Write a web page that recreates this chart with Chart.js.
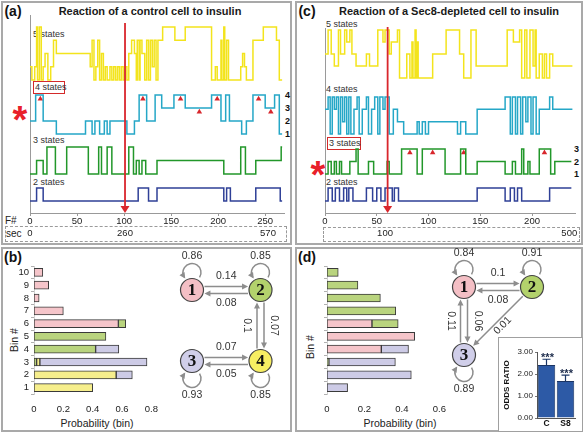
<!DOCTYPE html>
<html>
<head>
<meta charset="utf-8">
<script src="https://cdn.jsdelivr.net/npm/chart.js@4.4.1/dist/chart.umd.min.js"></script>
<style>
  body { margin: 0; background: #fff; }
  #fig { position: relative; width: 584px; height: 433px; overflow: hidden; background: #fff;
         font-family: 'Liberation Sans', Arial, sans-serif; color: #222; }
  .panel { position: absolute; box-sizing: border-box; border: 2px solid #a9a9a9; }
  canvas { position: absolute; }
  .t { position: absolute; white-space: nowrap; line-height: 1; transform: translate(-50%, -50%); }
  .l { position: absolute; white-space: nowrap; line-height: 1; transform: translate(0, -50%); }
  .rot { position: absolute; white-space: nowrap; line-height: 1; transform: translate(-50%, -50%) rotate(-90deg); }
  .box { position: absolute; box-sizing: border-box; }
  .st { font-size: 9px; color: #333; }
  .lv { font-size: 9px; font-weight: bold; color: #111; }
  .ast { font-size: 38px; font-weight: bold; color: #e8202a; }
  .ttl { font-size: 11px; font-weight: bold; color: #1a1a1a; }
  .pl { font-size: 14px; font-weight: bold; color: #111; }
</style>
</head>
<body>
<div id="fig">
  <div class="panel" style="left:1px;top:1px;width:291px;height:244px"></div>
  <div class="panel" style="left:1px;top:247px;width:291px;height:185px"></div>
  <div class="panel" style="left:295px;top:1px;width:288px;height:244px"></div>
  <div class="panel" style="left:295px;top:247px;width:288px;height:185px"></div>

  <!-- panel a -->
  <div class="t pl" style="left:13px;top:11px">(a)</div>
  <div class="t ttl" style="left:150px;top:11px">Reaction of a control cell to insulin</div>
  <div class="l st" style="left:33px;top:34px">5 states</div>
  <div class="box" style="left:33px;top:81px;width:32px;height:13px;border:1.5px solid #d42a2a"></div>
  <div class="l st" style="left:35px;top:87px">4 states</div>
  <div class="l st" style="left:33px;top:140px">3 states</div>
  <div class="l st" style="left:33px;top:182px">2 states</div>
  <div class="l lv" style="left:285px;top:95px">4</div>
  <div class="l lv" style="left:285px;top:108px">3</div>
  <div class="l lv" style="left:285px;top:121px">2</div>
  <div class="l lv" style="left:285px;top:134px">1</div>
  <div class="t ast" style="left:20px;top:120px">*</div>
  <div class="box" style="left:5px;top:226px;width:282px;height:16px;border:1px dashed #9a9a9a"></div>
  <div class="l" style="left:5px;top:221px;font-size:10px">F#</div>
  <div class="l" style="left:6px;top:234px;font-size:10px">sec</div>

  <!-- panel c -->
  <div class="t pl" style="left:307px;top:11px">(c)</div>
  <div class="t ttl" style="left:449px;top:11px">Reaction of a Sec8-depleted cell to insulin</div>
  <div class="l st" style="left:326px;top:24px">5 states</div>
  <div class="l st" style="left:326px;top:89px">4 states</div>
  <div class="box" style="left:327px;top:137px;width:34px;height:13px;border:1.5px solid #d42a2a"></div>
  <div class="l st" style="left:329px;top:143px">3 states</div>
  <div class="l st" style="left:326px;top:182px">2 states</div>
  <div class="l lv" style="left:574px;top:149px">3</div>
  <div class="l lv" style="left:574px;top:162px">2</div>
  <div class="l lv" style="left:574px;top:174px">1</div>
  <div class="t ast" style="left:318px;top:175px">*</div>
  <div class="box" style="left:323px;top:227px;width:257px;height:15px;border:1px dashed #9a9a9a"></div>

  <!-- panel b -->
  <div class="t pl" style="left:13px;top:257px">(b)</div>
  <div class="rot" style="left:14px;top:340px;font-size:10.5px">Bin #</div>
  <div class="t" style="left:97px;top:423px;font-size:10.5px">Probability (bin)</div>

  <!-- panel d -->
  <div class="t pl" style="left:307px;top:257px">(d)</div>
  <div class="rot" style="left:310px;top:347px;font-size:10.5px">Bin #</div>
  <div class="t" style="left:400px;top:423px;font-size:10.5px">Probability (bin)</div>

  <canvas id="trA" width="290" height="243" style="left:0;top:0"></canvas>
  <canvas id="trC" width="290" height="243" style="left:294px;top:0"></canvas>
  <canvas id="barB" width="168" height="172" style="left:0;top:247px"></canvas>
  <canvas id="netB" width="125" height="183" style="left:165px;top:247px"></canvas>
  <canvas id="barD" width="163" height="172" style="left:293px;top:247px"></canvas>
  <canvas id="netD" width="152" height="183" style="left:430px;top:247px"></canvas>
  <div class="box" style="left:498px;top:337px;width:85px;height:95px;border:1.5px solid #a0a0a0;background:#fff"></div>
  <canvas id="odds" width="82" height="92" style="left:499px;top:338px"></canvas>
</div>

<script>
// ---------- traces: [frame where the state starts, state] ----------
const frameTicksA = [0, 50, 100, 150, 200, 250];
const secTicksA = [0, 101, 253];
const secLabelsA = ['0', '260', '570'];
const insulinFrameA = 101;

const fiveStatesA = [[0,2],[2,1],[5,2],[7,5],[8,1],[10,5],[12,1],[14,2],[16,3],[19,1],[22,2],[25,4],[28,3],
  [64,2],[66,4],[68,1],[70,2],[72,4],[74,1],[76,3],[78,1],[80,2],[82,1],[85,2],[87,1],[89,2],[91,1],[93,2],
  [95,1],[97,2],[99,1],[101,2],[103,1],[105,3],[108,4],[111,3],[113,1],[114,4],[116,1],[117,4],[119,3],[122,1],
  [124,4],[126,1],[128,4],[130,2],[132,4],[134,1],[136,4],[141,5],[154,4],[165,5],[193,1],[197,2],[199,1],
  [203,4],[204,1],[206,5],[207,1],[209,4],[211,1],[224,2],[226,3],[228,2],[230,1],[237,4],[248,5],[262,4],
  [265,1],[268,1]];
const fourStatesA = [[0,2],[6,4],[14,2],[28,1],[59,2],[66,1],[69,2],[74,1],[79,2],[82,1],[85,2],[103,1],
  [111,2],[116,4],[124,2],[133,4],[140,3],[153,4],[165,3],[193,4],[203,2],[208,4],[212,2],[225,1],[230,2],
  [237,4],[250,3],[260,4],[265,1],[268,1]];
const threeStatesA = [[0,1],[7,2],[14,1],[18,3],[27,1],[39,3],[62,1],[73,3],[76,1],[82,3],[87,1],[105,3],
  [110,1],[113,2],[116,1],[119,2],[123,1],[135,2],[206,1],[224,3],[229,1],[240,2],[267,3],[268,3]];
const twoStatesA = [[0,1],[7,2],[14,1],[115,2],[126,1],[135,2],[206,1],[209,2],[213,1],[240,2],[266,1],[268,1]];
const marksA = [[11,4],[120,4],[160,4],[180,3],[199,4],[243,4],[256,3]];

const frameTicksC = [0, 50, 100, 150, 200];
const secTicksC = [58, 236];
const secLabelsC = ['100', '500'];
const insulinFrameC = 60.5;

const fiveStatesC = [[0,3],[3,5],[6,3],[9,2],[13,5],[15,3],[19,5],[21,4],[24,5],[26,3],[30,2],[40,3],[43,2],
  [51,5],[56,4],[58,5],[62,3],[64,4],[70,5],[72,1],[79,3],[82,1],[84,4],[85,1],[87,5],[88,1],[89,4],[90,1],
  [104,3],[117,5],[130,3],[134,1],[141,5],[146,2],[176,5],[182,4],[188,5],[190,1],[193,5],[195,1],[198,5],
  [201,2],[203,5],[204,1],[207,3],[210,1],[212,3],[214,1],[217,3],[220,2],[239,2]];
const fourStatesC = [[0,3],[3,4],[5,1],[7,4],[9,3],[11,4],[13,1],[15,4],[17,2],[19,4],[21,1],[23,4],[25,1],
  [28,3],[31,4],[33,1],[36,3],[40,4],[42,1],[45,3],[48,4],[51,1],[53,4],[56,3],[58,4],[62,1],[66,3],[70,2],
  [76,1],[89,2],[91,1],[94,2],[97,1],[100,2],[128,1],[131,2],[136,1],[147,3],[174,4],[179,1],[181,4],[184,1],
  [186,4],[189,1],[191,4],[194,2],[196,4],[199,1],[201,4],[204,1],[207,3],[217,4],[220,3],[239,3]];
const threeStatesC = [[0,1],[3,2],[6,1],[9,2],[11,1],[14,2],[16,1],[24,2],[30,3],[32,1],[42,2],[47,1],[60,2],
  [62,1],[74,3],[89,1],[94,3],[116,1],[131,3],[136,1],[147,2],[174,1],[181,2],[184,1],[190,3],[192,1],[196,2],
  [198,1],[207,3],[218,1],[222,2],[238,2]];
const twoStatesC = [[0,1],[3,2],[7,1],[10,2],[14,1],[18,2],[21,1],[23,2],[27,1],[40,2],[46,1],[50,2],[54,1],
  [58,2],[65,1],[67,2],[71,1],[147,2],[174,1],[179,2],[183,1],[186,2],[190,1],[217,2],[238,2]];
const marksC = [[82,3],[104,3],[134,3],[212,3]];

// ---------- bin probabilities (bins 1..10) ----------
const binLabels = ['1','2','3','4','5','6','7','8','9','10'];
const probTicksB = [0, 0.2, 0.4, 0.6, 0.8];
const pinkB   = [0, 0, 0, 0, 0, 0.575, 0.2, 0.035, 0.1, 0.06];
const greenB  = [0, 0, 0.018, 0.42, 0.49, 0.05, 0, 0, 0, 0];
const yellowB = [0.4, 0.56, 0.022, 0, 0, 0, 0, 0, 0, 0];
const purpleB = [0, 0.11, 0.73, 0.158, 0, 0, 0, 0, 0, 0];

const probTicksD = [0, 0.2, 0.4, 0.6];
const pinkD   = [0, 0, 0, 0.29, 0.468, 0.24, 0, 0, 0, 0];
const greenD  = [0, 0, 0.01, 0, 0, 0.14, 0.367, 0.285, 0.165, 0.06];
const purpleD = [0.11, 0.45, 0.355, 0.145, 0, 0, 0, 0, 0, 0];

// ---------- state diagrams ----------
const statesB = ['1','2','3','4'];
const selfB = [0.86, 0.85, 0.93, 0.85];
const transB = [[1,2,0.14],[2,1,0.08],[4,2,0.1],[2,4,0.07],[3,4,0.07],[4,3,0.05]];
const statesD = ['1','2','3'];
const selfD = [0.84, 0.91, 0.89];
const transD = [[1,2,0.1],[2,1,0.08],[3,1,0.11],[1,3,0.06],[2,3,0.01]];

// ---------- odds ratio inset ----------
const groupLabels = ['C', 'S8'];
const oddsRatio = [2.41, 1.68];
const oddsErr = [0.26, 0.27];
const oddsStars = ['***', '***'];
const oddsTicks = [0, 1, 2, 3];

// ---------- colours ----------
const cYellow = '#f3e41c', cCyan = '#25a7c7', cGreen = '#22972a', cBlue = '#2f4097';
const fPink = '#f5c5ca', fGreen = '#b9d47e', fYellow = '#f6ee8c', fPurple = '#cdcbe6';
const nodePink = '#f4bfc5', nodeGreen = '#b3d26c', nodePurple = '#d0cee9', nodeYellow = '#f7ee62';

Chart.defaults.font.family = "'Liberation Sans', Arial, sans-serif";
Chart.defaults.color = '#222';
Chart.defaults.animation = false;
Chart.defaults.responsive = false;
Chart.defaults.plugins.legend.display = false;
Chart.defaults.plugins.tooltip.enabled = false;

const insulinPlugin = {
  id: 'insulin',
  afterDatasetsDraw(chart, args, o) {
    const ctx = chart.ctx, x = chart.scales.x.getPixelForValue(o.frame), b = chart.chartArea.bottom;
    ctx.save();
    ctx.strokeStyle = ctx.fillStyle = '#d9262c';
    ctx.lineWidth = 1.8;
    ctx.beginPath(); ctx.moveTo(x, o.top); ctx.lineTo(x, b - 5); ctx.stroke();
    ctx.beginPath(); ctx.moveTo(x - 4.5, b - 7); ctx.lineTo(x + 4.5, b - 7); ctx.lineTo(x, b); ctx.closePath(); ctx.fill();
    ctx.restore();
  }
};

function traceChart(id, o) {
  const scales = {
    x: {
      type: 'linear', min: 0, max: o.max,
      afterBuildTicks: s => { s.ticks = o.fTicks.map(v => ({ value: v })); },
      afterFit: s => { s.height = 13; },
      grid: { display: true, drawOnChartArea: false, tickLength: 3, color: '#999' },
      border: { color: '#999' },
      ticks: { padding: 0, maxRotation: 0, autoSkip: false, font: { size: 9.5 } }
    },
    xs: {
      type: 'linear', position: 'bottom', min: 0, max: o.max,
      afterBuildTicks: s => { s.ticks = o.sTicks.map(v => ({ value: v })); },
      afterFit: s => { s.height = 14; },
      grid: { display: false, drawTicks: false },
      border: { display: false },
      ticks: { padding: 2, maxRotation: 0, autoSkip: false, font: { size: 9.5 }, callback: (v, i) => o.sLabels[i] }
    }
  };
  const datasets = [];
  o.traces.forEach((t, i) => {
    const ax = 'y' + i;
    scales[ax] = {
      type: 'linear', position: 'left', stack: 'tr', stackWeight: t.sec.h,
      min: t.sec.min, max: t.sec.max,
      ticks: { display: false }, grid: { display: false, drawTicks: false },
      border: { color: '#9a9a9a' },
      afterFit: s => { s.width = 0; }
    };
    datasets.push({
      data: t.data.map(p => ({ x: p[0], y: p[1] })), yAxisID: ax,
      borderColor: t.color, borderWidth: 1.5, pointRadius: 0, stepped: true
    });
  });
  datasets.push({
    data: o.marks.map(p => ({ x: p[0], y: p[1] - 0.3 })), yAxisID: 'y' + o.markTrace,
    showLine: false, pointStyle: 'triangle', pointRadius: 3.2,
    pointBackgroundColor: '#d8262c', pointBorderColor: '#d8262c', pointBorderWidth: 0
  });
  return new Chart(document.getElementById(id), {
    type: 'line',
    data: { datasets },
    options: {
      layout: { padding: o.pad },
      scales,
      plugins: { insulin: { frame: o.insulin, top: o.lineTop } }
    },
    plugins: [insulinPlugin]
  });
}

// traces listed bottom to top (stacked axes fill from the bottom)
traceChart('trA', {
  max: 270, pad: { left: 30, right: 6, top: 15, bottom: 3 },
  fTicks: frameTicksA, sTicks: secTicksA, sLabels: secLabelsA,
  insulin: insulinFrameA, lineTop: 23,
  traces: [
    { data: twoStatesA, color: cBlue, sec: { min: 0.077, max: 2.615, h: 33 } },
    { data: threeStatesA, color: cGreen, sec: { min: 0.556, max: 3.44, h: 39 } },
    { data: fourStatesA, color: cCyan, sec: { min: 0.46, max: 4.69, h: 55 } },
    { data: fiveStatesA, color: cYellow, sec: { min: 0.55, max: 5.9, h: 71 } }
  ],
  marks: marksA, markTrace: 2
});

traceChart('trC', {
  max: 242, pad: { left: 31, right: 8.5, top: 28, bottom: 3 },
  fTicks: frameTicksC, sTicks: secTicksC, sLabels: secLabelsC,
  insulin: insulinFrameC, lineTop: 27,
  traces: [
    { data: twoStatesC, color: cBlue, sec: { min: 0.077, max: 2.54, h: 32 } },
    { data: threeStatesC, color: cGreen, sec: { min: 0.44, max: 3.64, h: 40 } },
    { data: fourStatesC, color: cCyan, sec: { min: 0.43, max: 4.97, h: 56 } },
    { data: fiveStatesC, color: cYellow, sec: { min: 0.42, max: 5.17, h: 57 } }
  ],
  marks: marksC, markTrace: 1
});

function seg(values, color) {
  return { data: values, backgroundColor: color, borderColor: '#3a3a3a', borderWidth: 1, borderSkipped: false, barThickness: 8 };
}

function binChart(id, sets, ticks, max, showLabels, padRight) {
  return new Chart(document.getElementById(id), {
    type: 'bar',
    data: { labels: binLabels, datasets: sets },
    options: {
      indexAxis: 'y',
      layout: { padding: { left: 0, right: padRight, top: 19, bottom: 0 } },
      scales: {
        x: {
          stacked: true, min: 0, max: max,
          afterBuildTicks: s => { s.ticks = ticks.map(v => ({ value: v })); },
          afterFit: s => { s.height = 25; },
          grid: { display: false, drawTicks: false }, border: { display: false },
          ticks: { padding: 10, font: { size: 9.5 } }
        },
        y: {
          stacked: true, reverse: true,
          afterFit: s => { s.width = 34; },
          grid: { display: true, drawOnChartArea: false, tickLength: 3, color: '#b0b0b0' },
          border: { color: '#cfcfcf' },
          ticks: { display: showLabels, autoSkip: false, padding: 2, font: { size: 9.5 } }
        }
      }
    }
  });
}

binChart('barB', [seg(pinkB, fPink), seg(greenB, fGreen), seg(yellowB, fYellow), seg(purpleB, fPurple)],
  probTicksB, 0.8, true, 14);
binChart('barD', [seg(pinkD, fPink), seg(greenD, fGreen), seg(purpleD, fPurple)],
  probTicksD, 0.6, false, 10);

function head(ctx, x, y, dx, dy) {
  const h = 6, w = 3;
  ctx.beginPath();
  ctx.moveTo(x, y);
  ctx.lineTo(x - dx * h - dy * w, y - dy * h + dx * w);
  ctx.lineTo(x - dx * h + dy * w, y - dy * h - dx * w);
  ctx.closePath();
  ctx.fill();
}

function label(ctx, txt, x, y, ang) {
  ctx.save();
  ctx.translate(x, y);
  ctx.rotate(ang);
  ctx.fillStyle = '#333';
  ctx.font = "10.5px 'Liberation Sans', Arial, sans-serif";
  ctx.textAlign = 'center';
  ctx.textBaseline = 'middle';
  ctx.fillText(txt, 0, 0);
  ctx.restore();
}

const netPlugin = {
  id: 'net',
  beforeDatasetsDraw(chart, args, o) {
    const ctx = chart.ctx, pts = chart.getDatasetMeta(0).data, raw = chart.data.datasets[0].data, r = 11.5;
    ctx.save();
    ctx.strokeStyle = ctx.fillStyle = '#8d8d8d';
    ctx.lineWidth = 1.5;
    o.trans.forEach(([a, b, p]) => {
      const P = pts[a - 1], Q = pts[b - 1];
      let ux = Q.x - P.x, uy = Q.y - P.y;
      const d = Math.hypot(ux, uy);
      ux /= d; uy /= d;
      const nx = uy, ny = -ux;
      const rev = o.trans.some(t => t[0] === b && t[1] === a);
      const off = rev ? 3.5 : 0, e = Math.sqrt(r * r - off * off) + 1.5;
      const x1 = P.x + nx * off + ux * e, y1 = P.y + ny * off + uy * e;
      const x2 = Q.x + nx * off - ux * e, y2 = Q.y + ny * off - uy * e;
      ctx.beginPath(); ctx.moveTo(x1, y1); ctx.lineTo(x2 - ux * 4, y2 - uy * 4); ctx.stroke();
      head(ctx, x2, y2, ux, uy);
      let ang = Math.atan2(uy, ux);
      if (ang > Math.PI / 2 + 0.01) ang -= Math.PI;
      if (ang < -Math.PI / 2 + 0.01) ang += Math.PI;
      label(ctx, String(p), (x1 + x2) / 2 + nx * (off + 6.5), (y1 + y2) / 2 + ny * (off + 6.5), ang);
    });
    pts.forEach((P, i) => {
      const up = raw[i].y > 0.5, s = up ? -1 : 1, R = 9, cy = P.y + s * (r + 6);
      ctx.beginPath();
      let a, dx, dy;
      if (up) {
        ctx.arc(P.x, cy, R, Math.PI / 2 - 1, Math.PI / 2 + 1, true);
        a = Math.PI / 2 + 1; dx = Math.sin(a); dy = -Math.cos(a);
      } else {
        ctx.arc(P.x, cy, R, -Math.PI / 2 + 1, -Math.PI / 2 - 1, false);
        a = -Math.PI / 2 - 1; dx = -Math.sin(a); dy = Math.cos(a);
      }
      ctx.stroke();
      head(ctx, P.x + R * Math.cos(a) + dx * 1.5, cy + R * Math.sin(a) + dy * 1.5, dx, dy);
      label(ctx, String(o.self[i]), P.x, cy + s * (R + 7.5), 0);
    });
    ctx.restore();
  },
  afterDatasetsDraw(chart, args, o) {
    const ctx = chart.ctx, pts = chart.getDatasetMeta(0).data;
    ctx.save();
    ctx.fillStyle = '#111';
    ctx.font = "bold 17px 'Liberation Serif', 'Times New Roman', serif";
    ctx.textAlign = 'center';
    ctx.textBaseline = 'middle';
    pts.forEach((P, i) => ctx.fillText(o.names[i], P.x, P.y + 1));
    ctx.restore();
  }
};

function netChart(id, grid, colors, names, self, trans, pad) {
  return new Chart(document.getElementById(id), {
    type: 'scatter',
    data: { datasets: [{
      data: grid.map(g => ({ x: g[0], y: g[1] })), clip: false,
      pointRadius: 11.5, pointBackgroundColor: colors, pointBorderColor: '#444', pointBorderWidth: 1.2
    }] },
    options: {
      layout: { padding: pad },
      scales: { x: { display: false, min: 0, max: 1 }, y: { display: false, min: 0, max: 1 } },
      plugins: { net: { names, self, trans } }
    },
    plugins: [netPlugin]
  });
}

// node grid places: column, row
netChart('netB', [[0,1],[1,1],[0,0],[1,0]], [nodePink, nodeGreen, nodePurple, nodeYellow],
  statesB, selfB, transB, { left: 27, right: 29.5, top: 43, bottom: 69 });
netChart('netD', [[0,1],[1,1],[0,0]], [nodePink, nodeGreen, nodePurple],
  statesD, selfD, transD, { left: 34, right: 50, top: 40, bottom: 75 });

const errPlugin = {
  id: 'errs',
  afterDatasetsDraw(chart, args, o) {
    const ctx = chart.ctx, ys = chart.scales.y, meta = chart.getDatasetMeta(0), vals = chart.data.datasets[0].data;
    ctx.save();
    ctx.strokeStyle = '#1b3564';
    ctx.lineWidth = 1.2;
    meta.data.forEach((bar, i) => {
      const yt = ys.getPixelForValue(vals[i] + o.err[i]);
      ctx.beginPath();
      ctx.moveTo(bar.x, bar.y); ctx.lineTo(bar.x, yt);
      ctx.moveTo(bar.x - 4, yt); ctx.lineTo(bar.x + 4, yt);
      ctx.stroke();
      ctx.fillStyle = '#1b2a4a';
      ctx.font = "bold 11px 'Liberation Sans', Arial, sans-serif";
      ctx.textAlign = 'center';
      ctx.textBaseline = 'middle';
      ctx.fillText(o.stars[i], bar.x + 1, yt - 1);
    });
    ctx.restore();
  }
};

new Chart(document.getElementById('odds'), {
  type: 'bar',
  data: { labels: groupLabels, datasets: [{
    data: oddsRatio, backgroundColor: '#2d5aa6', borderColor: '#1b3564', borderWidth: 1,
    categoryPercentage: 1, barPercentage: 0.92
  }] },
  options: {
    layout: { padding: { top: 14, right: 6, left: 0, bottom: 0 } },
    plugins: { errs: { err: oddsErr, stars: oddsStars } },
    scales: {
      x: {
        afterFit: s => { s.height = 12; },
        grid: { display: false, drawTicks: false }, border: { color: '#555' },
        ticks: { padding: 1, font: { size: 8.5, weight: 'bold' }, color: '#111' }
      },
      y: {
        min: 0, max: 3,
        afterBuildTicks: s => { s.ticks = oddsTicks.map(v => ({ value: v })); },
        afterFit: s => { s.width = 38; },
        grid: { display: true, drawOnChartArea: false, tickLength: 2, color: '#777' },
        border: { color: '#555' },
        ticks: { padding: 2, font: { size: 8 }, callback: v => v.toFixed(2) },
        title: { display: true, text: 'ODDS RATIO', font: { size: 8, weight: 'bold' }, padding: 3, color: '#111' }
      }
    }
  },
  plugins: [errPlugin]
});
</script>
</body>
</html>
